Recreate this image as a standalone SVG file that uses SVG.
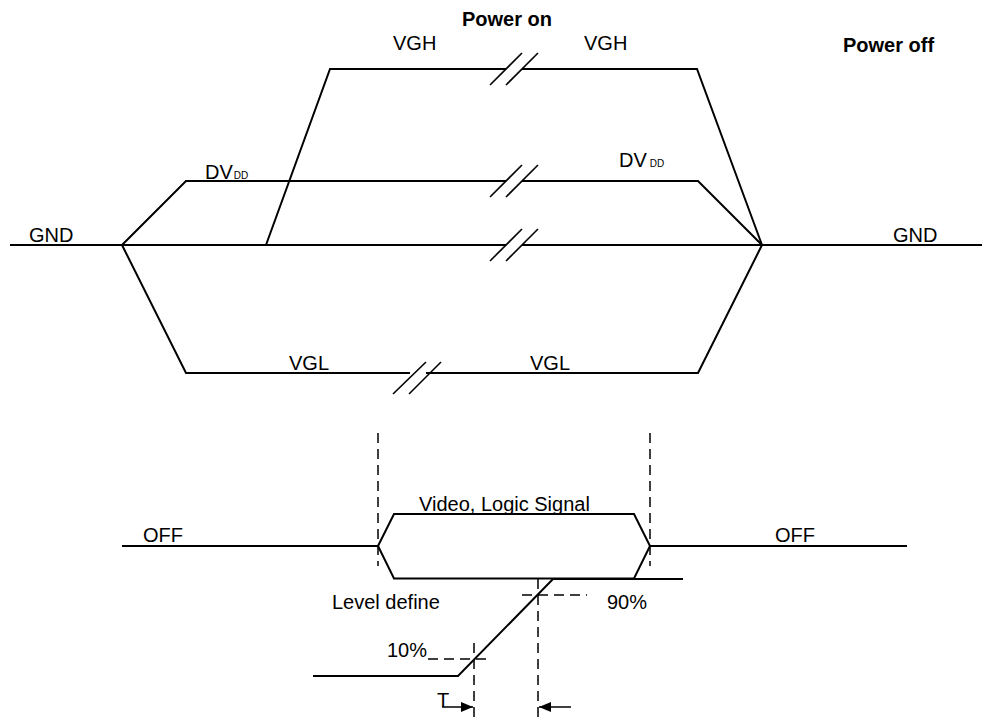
<svg xmlns="http://www.w3.org/2000/svg" width="992" height="720" viewBox="0 0 992 720">
<defs>
<style>
.ln{fill:none;stroke:#000;stroke-width:2;stroke-linejoin:miter}
.br{fill:none;stroke:#000;stroke-width:1.6}
.ds{fill:none;stroke:#000;stroke-width:1.5;stroke-dasharray:10,6}
text{font-family:"Liberation Sans",Arial,sans-serif;font-size:20px;fill:#000}
.b{font-weight:bold}
.sub{font-size:10px}
</style>
<marker id="ah" viewBox="0 0 12 10" refX="12" refY="5" markerWidth="12" markerHeight="10" markerUnits="userSpaceOnUse" orient="auto">
<path d="M0,0 L12,5 L0,10 Z" fill="#000"/>
</marker>
</defs>
<rect width="992" height="720" fill="#fff"/>

<g id="titles">
<text class="b" x="462" y="26">Power on</text>
<text class="b" x="843" y="52">Power off</text>
</g>

<g id="vgh">
<polyline class="ln" points="266,245 330,69 506,69"/>
<polyline class="ln" points="522,69 697,69 762,245"/>
<line class="br" x1="490" y1="85" x2="522" y2="53"/>
<line class="br" x1="506" y1="85" x2="538" y2="53"/>
<text x="393" y="50">VGH</text>
<text x="584" y="50">VGH</text>
</g>

<g id="dvdd">
<polyline class="ln" points="122,245 186,181 506,181"/>
<polyline class="ln" points="522,181 698,181 762,245"/>
<line class="br" x1="490" y1="197" x2="522" y2="165"/>
<line class="br" x1="506" y1="197" x2="538" y2="165"/>
<text x="205" y="179">DV<tspan class="sub" dx="1">DD</tspan></text>
<text x="619" y="167">DV<tspan class="sub" dx="3">DD</tspan></text>
</g>

<g id="gnd">
<line class="ln" x1="10" y1="245" x2="506" y2="245"/>
<line class="ln" x1="522" y1="245" x2="982" y2="245"/>
<line class="br" x1="490" y1="261" x2="522" y2="229"/>
<line class="br" x1="506" y1="261" x2="538" y2="229"/>
<text x="29" y="242">GND</text>
<text x="893" y="242">GND</text>
</g>

<g id="vgl">
<polyline class="ln" points="122,245 186,373 410,373"/>
<polyline class="ln" points="426,373 698,373 762,245"/>
<line class="br" x1="393" y1="394" x2="426" y2="362"/>
<line class="br" x1="409" y1="394" x2="441" y2="362"/>
<text x="289" y="370">VGL</text>
<text x="530" y="370">VGL</text>
</g>

<g id="signal">
<line class="ds" x1="378" y1="433" x2="378" y2="566"/>
<line class="ds" x1="650" y1="433" x2="650" y2="566"/>
<line class="ln" x1="122" y1="546" x2="378" y2="546"/>
<line class="ln" x1="650" y1="546" x2="907" y2="546"/>
<polygon class="ln" points="378,546 394,514 634,514 650,546 634,578.5 394,578.5"/>
<text x="419" y="511">Video, Logic Signal</text>
<text x="143" y="542">OFF</text>
<text x="775" y="542">OFF</text>
</g>

<g id="level">
<polyline class="ln" points="313,676 458,676 553,579 683,579"/>
<line class="ds" x1="522" y1="595" x2="587" y2="595" stroke-dasharray="2,6,14,6"/>
<line class="ds" x1="538" y1="579" x2="538" y2="720" stroke-dasharray="16,6,10,6"/>
<line class="ds" x1="428" y1="659" x2="490" y2="659" stroke-dasharray="2,6,10,6"/>
<line class="ds" x1="474" y1="643" x2="474" y2="720"/>
<text x="332" y="609">Level define</text>
<text x="607" y="609">90%</text>
<text x="387" y="657">10%</text>
<text x="437" y="707">T</text>
</g>

<g id="connectors">
<line x1="442" y1="707" x2="473" y2="707" stroke="#000" stroke-width="1.5" marker-end="url(#ah)"/>
<line x1="571" y1="707" x2="539" y2="707" stroke="#000" stroke-width="1.5" marker-end="url(#ah)"/>
</g>
</svg>
